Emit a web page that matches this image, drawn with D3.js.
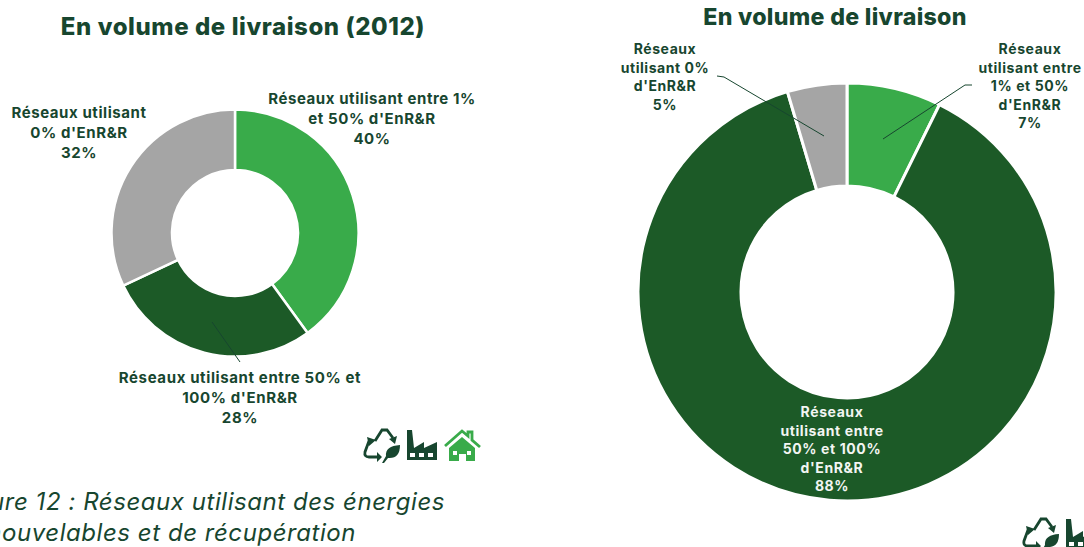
<!DOCTYPE html>
<html><head><meta charset="utf-8">
<script src="https://cdnjs.cloudflare.com/ajax/libs/d3/7.8.5/d3.min.js"></script>
<style>html,body{margin:0;padding:0;background:#fff;overflow:hidden}svg{display:block;font-family:Inter,sans-serif}</style>
</head><body><svg id="c" width="1084" height="547"></svg>
<script>
const colors=["#39ab4a","#1c5a27","#a5a5a5"];
const ink="#17462f";
const leftTitle="En volume de livraison (2012)";
const rightTitle="En volume de livraison";
const leftValues=[40,28,32];
const rightValues=[7.3,88.1,4.6];
const leftLabels=[
 ["Réseaux utilisant entre 1%","et 50% d'EnR&R","40%"],
 ["Réseaux utilisant entre 50% et","100% d'EnR&R","28%"],
 ["Réseaux utilisant","0% d'EnR&R","32%"]];
const rightLabels=[
 ["Réseaux","utilisant entre","1% et 50%","d'EnR&R","7%"],
 ["Réseaux","utilisant entre","50% et 100%","d'EnR&R","88%"],
 ["Réseaux","utilisant 0%","d'EnR&R","5%"]];
const captionLines=["Figure 12 : Réseaux utilisant des énergies","renouvelables et de récupération"];

const svg=d3.select("#c");
function donut(cx,cy,ro,ri,vals,sw){
  const g=svg.append("g").attr("transform",`translate(${cx},${cy})`);
  const arcs=d3.pie().sort(null)(vals);
  const arc=d3.arc().outerRadius(ro).innerRadius(ri);
  g.selectAll("path").data(arcs).join("path").attr("d",arc)
   .attr("fill",(d,i)=>colors[i]).attr("stroke","#fff").attr("stroke-width",sw);
}
function label(lines,cx,y0,lh,size,fill,ls){
  const t=svg.append("text").attr("text-anchor","middle").attr("font-size",size)
    .attr("font-weight",700).attr("fill",fill||ink).attr("letter-spacing",ls);
  t.selectAll("tspan").data(lines).join("tspan").attr("x",cx).attr("y",(d,i)=>y0+i*lh).text(d=>d);
}
function leader(pts){
  svg.append("path").attr("d",d3.line()(pts)).attr("fill","none").attr("stroke",ink).attr("stroke-width",1);
}
function icons(x,y,s){
  const g=svg.append("g").attr("transform",`translate(${x},${y}) scale(${s})`);
  // recycle arrows
  g.append("path").attr("d","M12 14 L19 3 L24 3 L30 11 M6 14 L2 25 Q1 30 6 30 L14 30")
   .attr("fill","none").attr("stroke",ink).attr("stroke-width",2.8);
  g.append("path").attr("d","M26 12 L34 9 L32 17 Z M4 10 L13 13 L6 19 Z M14 25 L14 35 L19 30 Z").attr("fill",ink);
  // leaf
  g.append("path").attr("d","M19 36 L23 29 Q22 19 37 18 Q37 32 25 31 L21 36 Z").attr("fill",ink);
  // factory
  g.append("path").attr("d","M44 3 L49 3 L51 21 L61 15 L61 21 L74 15 L74 33 L44 33 Z M47 26 L47 30 L52 30 L52 26 Z M56 26 L56 30 L61 30 L61 26 Z M65 26 L65 30 L70 30 L70 26 Z")
   .attr("fill",ink).attr("fill-rule","evenodd");
  // house
  g.append("path").attr("d","M82 19 L99 4 L105 9 L105 5 L109 5 L109 13 L117 20").attr("fill","none").attr("stroke",colors[0]).attr("stroke-width",2.8);
  g.append("path").attr("d","M86 21 L99 10 L112 21 L112 34 L103 34 L103 27 L96 27 L96 34 L86 34 Z M90 24 L90 28 L94 28 L94 24 Z M104 24 L104 28 L108 28 L108 24 Z").attr("fill",colors[0]).attr("fill-rule","evenodd");
}
donut(235,233,123.5,63,leftValues,2.5);
donut(847,292,209,106,rightValues,3);

svg.append("text").attr("x",243).attr("y",35).attr("text-anchor","middle").attr("font-size",24).attr("font-weight",800).attr("letter-spacing",0.58).attr("fill",ink).text(leftTitle);
svg.append("text").attr("x",835).attr("y",25).attr("text-anchor","middle").attr("font-size",23.2).attr("font-weight",800).attr("letter-spacing",0.3).attr("fill",ink).text(rightTitle);

label(leftLabels[0],372,104,20,15,ink,0.58);
label(leftLabels[1],240,383,20,15,ink,0.62);
label(leftLabels[2],79,118,20,15,ink,0.58);
label(rightLabels[0],1030,54,18.6,14,ink,0.6);
label(rightLabels[1],832,417,18.6,14,"#f2f5f2",0.6);
label(rightLabels[2],665,54,18.6,14,ink,0.55);

leader([[212,322],[240,362]]);
leader([[717,76],[724,77],[824,136]]);
leader([[972,85],[965,85],[883,139]]);

icons(363,427,1);
icons(1022,516,1);

const cap=svg.append("text").attr("font-size",24).attr("font-style","italic").attr("fill",ink).attr("font-weight",400).attr("letter-spacing",0.55);
cap.selectAll("tspan").data(captionLines).join("tspan").attr("text-anchor","end")
  .attr("x",(d,i)=>[445,356][i]).attr("y",(d,i)=>[510,541][i]).text(d=>d);
</script></body></html>
